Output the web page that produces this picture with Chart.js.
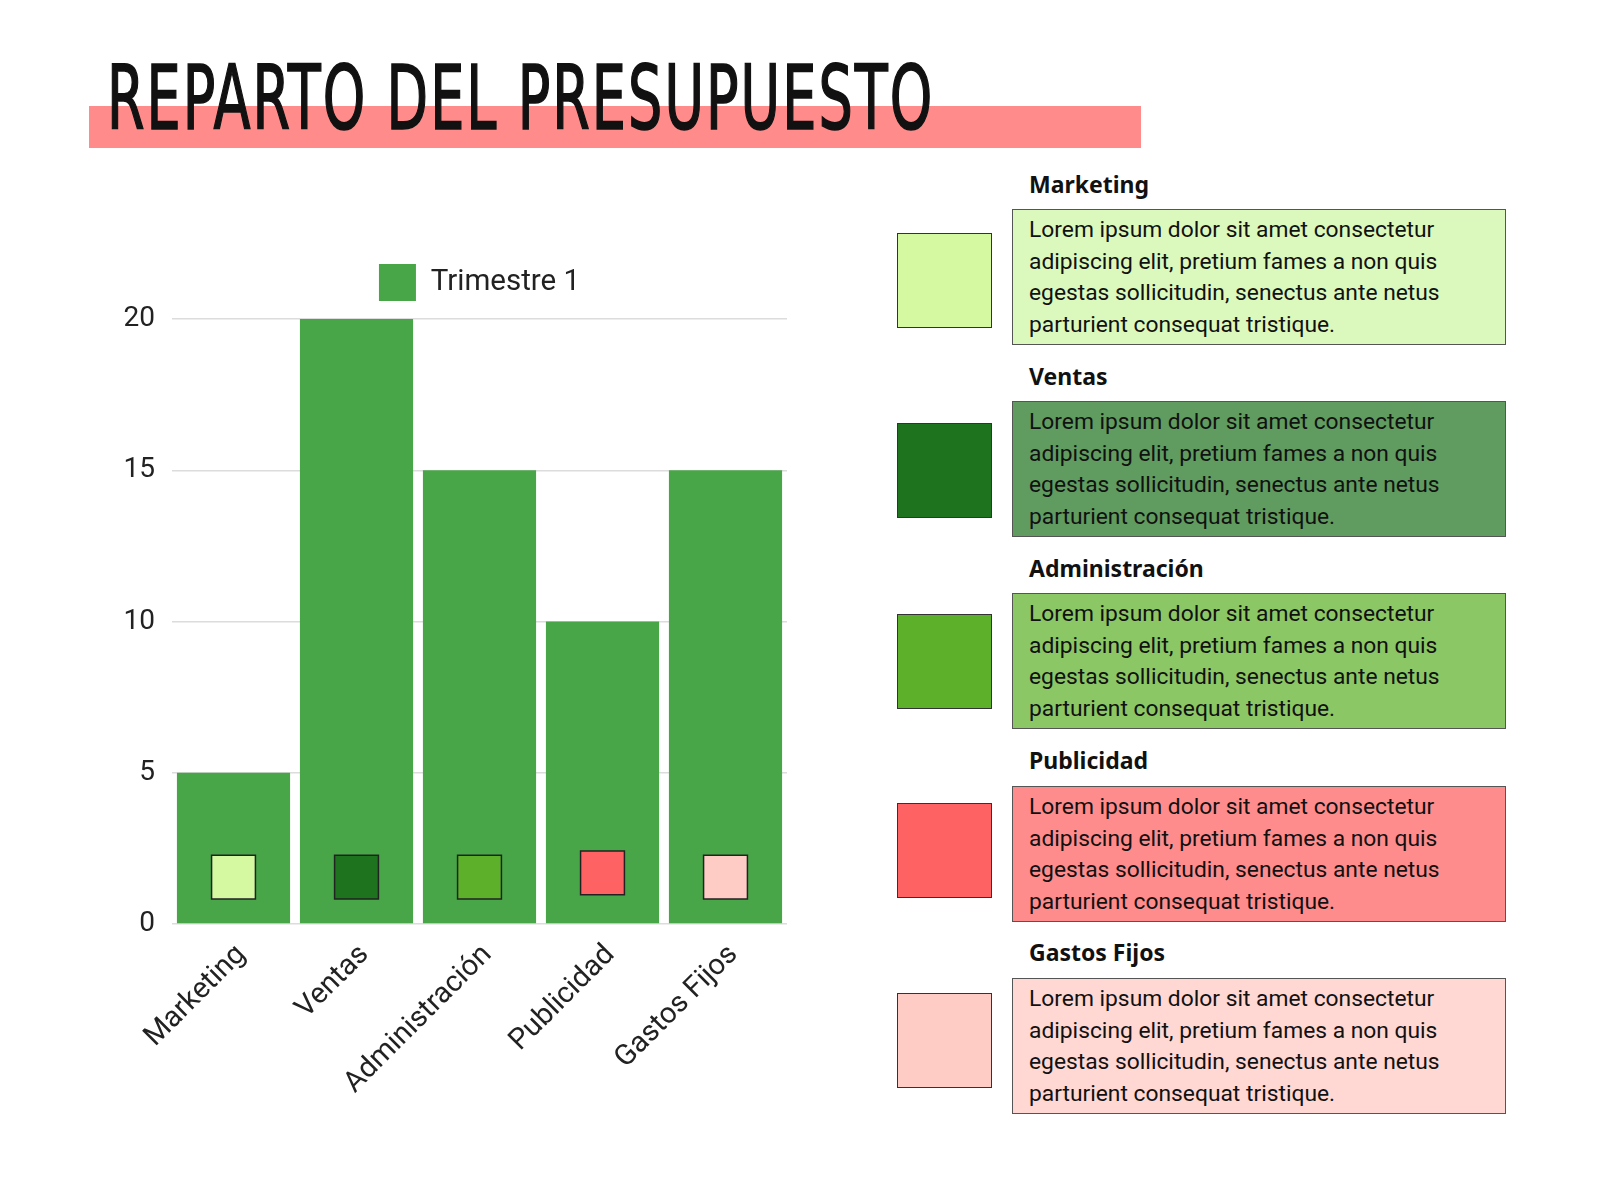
<!DOCTYPE html>
<html>
<head>
<meta charset="utf-8">
<script src="https://cdn.jsdelivr.net/npm/chart.js@4"></script>
<style>
  body { margin: 0; background: #fff; width: 1600px; height: 1200px; position: relative; overflow: hidden; font-family: Roboto, sans-serif; }
  #bar { position: absolute; left: 89px; top: 106px; width: 1052px; height: 42px; background: #ff8b8a; }
  #title { position: absolute; left: 107px; top: 48px; font-family: "DejaVu Sans Condensed", "Liberation Sans Narrow", sans-serif; font-size: 89px; line-height: 100px; color: #111; -webkit-text-stroke: 1.6px #111; white-space: nowrap; transform-origin: 0 0; letter-spacing: 3px; }
  #wrap { position: absolute; left: 90px; top: 240px; width: 779px; height: 880px; }
  .head { position: absolute; left: 1029px; font-family: "Noto Sans", sans-serif; font-weight: bold; font-size: 23px; color: #111; }
  .box { position: absolute; left: 1012px; width: 492px; height: 134px; border: 1px solid #555; box-sizing: content-box; }
  .box p { margin: 0; padding: 4px 0 0 16px; font-size: 22.8px; line-height: 31.5px; color: #111; }
  .sq { position: absolute; left: 897px; width: 93px; height: 93px; border: 1.5px solid #333; }
</style>
</head>
<body>
<div id="bar"></div>
<div id="title">REPARTO DEL PRESUPUESTO</div>
<div id="wrap"><canvas id="cntx_budget"></canvas></div>
<div id="panels"></div>
<script>
const categories = ["Marketing", "Ventas", "Administración", "Publicidad", "Gastos Fijos"];
const trimestre1 = [5, 20, 15, 10, 15];
const markerValues = [1.55, 1.55, 1.55, 1.69, 1.55];
const markerColors = ["#d4f9a0", "#1e731e", "#5cb02a", "#ff6262", "#ffcbc5"];
const boxColors = ["#dcf9bd", "#609c5f", "#8cc766", "#ff8c8c", "#ffd8d3"];
const yTicks = [0, 5, 10, 15, 20];
const loremText = "Lorem ipsum dolor sit amet consectetur<br>adipiscing elit, pretium fames a non quis<br>egestas sollicitudin, senectus ante netus<br>parturient consequat tristique.";

// fit the title to the width of the reference heading
const title = document.querySelector("#title");
title.style.transform = "scaleX(" + (827 / title.scrollWidth) + ")";

// side panels
const panels = document.querySelector("#panels");
const headTops = [168, 360, 552, 744, 936];
const boxTops = [209, 401, 593, 786, 978];
const sqTops = [233, 423, 614, 803, 993];
categories.forEach((name, i) => {
	panels.insertAdjacentHTML("beforeend",
		'<div class="head" style="top:' + headTops[i] + 'px">' + name + '</div>' +
		'<div class="box" style="top:' + boxTops[i] + 'px;background:' + boxColors[i] + '"><p>' + loremText + '</p></div>' +
		'<div class="sq" style="top:' + sqTops[i] + 'px;background:' + markerColors[i] + '"></div>');
});

// centre the legend over the plot area and lift it a little
const legendShift = {
	id: "legendShift",
	afterLayout: (chart) => {
		const lg = chart.legend;
		const area = chart.chartArea;
		const dx = (area.left + area.right) / 2 - (lg.left + lg.right) / 2;
		lg.left += dx;
		lg.right += dx;
		lg.top -= 8;
		lg.bottom -= 8;
	},
};

drawChart = (canvas) => {
	const myChart = new Chart(canvas, {
		type: "bar",
		data: {
			labels: categories,
			datasets: [
				{
					label: "Trimestre 1",
					data: trimestre1,
					backgroundColor: "#48a648",
					borderWidth: 0,
					categoryPercentage: 1,
					barPercentage: 0.92,
					order: 2,
				},
				{
					type: "line",
					label: "marcas",
					data: markerValues,
					showLine: false,
					pointStyle: "rect",
					pointRadius: 31,
					pointHoverRadius: 31,
					pointBackgroundColor: markerColors,
					pointBorderColor: "#222",
					pointBorderWidth: 1.5,
					order: 1,
				},
			],
		},
		options: {
			responsive: true,
			maintainAspectRatio: false,
			animation: false,
			layout: { padding: { top: 10, right: 82, left: 0, bottom: 0 } },
			plugins: {
				tooltip: { enabled: false },
				legend: {
					position: "top",
					labels: {
						filter: (item) => item.datasetIndex === 0,
						boxWidth: 37,
						boxHeight: 37,
						padding: 22,
						color: "#222",
						font: { family: "Roboto", size: 29.5 },
					},
				},
			},
			scales: {
				x: {
					grid: { display: false },
					border: { display: false },
					ticks: {
						color: "#222",
						font: { family: "Roboto", size: 29 },
						minRotation: 45,
						maxRotation: 45,
						padding: 6,
						labelOffset: 8,
					},
					afterFit: (scale) => { scale.height = 196; },
				},
				y: {
					min: 0,
					max: 20,
					afterBuildTicks: (scale) => { scale.ticks = yTicks.map((v) => ({ value: v })); },
					grid: { color: "#dcdcdc", lineWidth: 1.5, drawTicks: false },
					border: { display: false },
					ticks: {
						color: "#222",
						font: { family: "Roboto", size: 28 },
						padding: 17,
					},
					afterFit: (scale) => { scale.width = 82; },
				},
			},
		},
		plugins: [legendShift],
	});
};
drawChart(document.querySelector("#cntx_budget"));
</script>
</body>
</html>
